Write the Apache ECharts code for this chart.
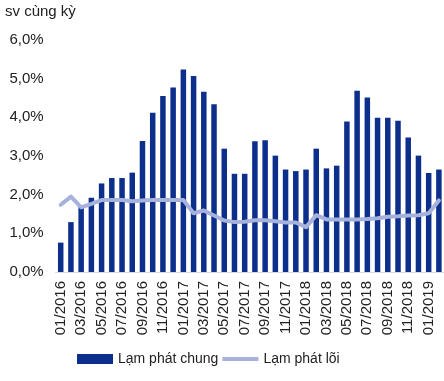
<!DOCTYPE html>
<html>
<head>
<meta charset="utf-8">
<script src="https://cdn.jsdelivr.net/npm/echarts@6/dist/echarts.min.js"></script>
<style>html,body{margin:0;padding:0;background:#fff;}#c{width:444px;height:381px;}</style>
</head>
<body>
<div id="c"></div>
<script>
var categories = [
  '01/2016','02/2016','03/2016','04/2016','05/2016','06/2016','07/2016','08/2016','09/2016','10/2016','11/2016','12/2016',
  '01/2017','02/2017','03/2017','04/2017','05/2017','06/2017','07/2017','08/2017','09/2017','10/2017','11/2017','12/2017',
  '01/2018','02/2018','03/2018','04/2018','05/2018','06/2018','07/2018','08/2018','09/2018','10/2018','11/2018','12/2018',
  '01/2019','02/2019'
];
var headline = [
  0.76, 1.29, 1.72, 1.92, 2.29, 2.43, 2.43, 2.57, 3.39, 4.12, 4.55, 4.77,
  5.24, 5.07, 4.66, 4.34, 3.19, 2.54, 2.54, 3.38, 3.41, 3.01, 2.65, 2.61,
  2.65, 3.19, 2.68, 2.75, 3.89, 4.69, 4.51, 3.99, 3.99, 3.91, 3.48, 3.01,
  2.56, 2.65
];
var core = [
  1.74, 1.95, 1.67, 1.76, 1.86, 1.86, 1.86, 1.83, 1.85, 1.86, 1.86, 1.86,
  1.86, 1.52, 1.59, 1.46, 1.33, 1.29, 1.30, 1.34, 1.34, 1.31, 1.28, 1.28,
  1.16, 1.47, 1.36, 1.36, 1.36, 1.36, 1.37, 1.39, 1.43, 1.44, 1.46, 1.47,
  1.52, 1.85
];
var yTicks = [0, 1, 2, 3, 4, 5, 6];
var FONT = 'Arial, "Liberation Sans", sans-serif';
var chart = echarts.init(document.getElementById('c'));
chart.setOption({
  animation: false,
  textStyle: {fontFamily: FONT},
  graphic: [{type: 'text', left: 5, top: 4, style: {text: 'sv cùng kỳ', font: '15px ' + FONT, fill: '#222'}}],
  grid: {left: 55.6, right: -2, top: 40, bottom: 109, containLabel: false},
  legend: {
    left: 77, top: 352, padding: 0, itemWidth: 36, itemHeight: 10, itemGap: 4,
    textStyle: {fontSize: 14, color: '#222', fontFamily: FONT},
    data: [
      {name: 'Lạm phát chung', icon: 'rect'},
      {name: 'Lạm phát lõi', icon: 'path://M0,0 L0.01,0 L0.01,0.01 Z M0,3 L36,3 L36,7 L0,7 Z M35.99,10 L36,10 L36,9.99 Z'}
    ]
  },
  xAxis: {
    type: 'category', data: categories, boundaryGap: true,
    axisLine: {lineStyle: {color: '#d9d9d9', width: 1}},
    axisTick: {interval: 1, length: 5, lineStyle: {color: '#d9d9d9'}},
    axisLabel: {interval: 1, rotate: 90, fontSize: 15, color: '#222', margin: 9, fontFamily: FONT}
  },
  yAxis: {
    type: 'value', min: yTicks[0], max: yTicks[yTicks.length - 1], interval: 1,
    splitLine: {show: false}, axisLine: {show: false}, axisTick: {show: false},
    axisLabel: {fontSize: 15, color: '#222', margin: 12, fontFamily: FONT,
      formatter: function (v) { return v.toFixed(1).replace('.', ',') + '%'; }}
  },
  series: [
    {name: 'Lạm phát chung', type: 'bar', data: headline, barWidth: 5.5,
      itemStyle: {color: '#0b2f8b'}},
    {name: 'Lạm phát lõi', type: 'line', data: core, symbol: 'none',
      lineStyle: {color: '#a6b2dc', width: 4, join: 'round', cap: 'round'},
      itemStyle: {color: '#a6b2dc'}}
  ]
});
</script>
</body>
</html>
